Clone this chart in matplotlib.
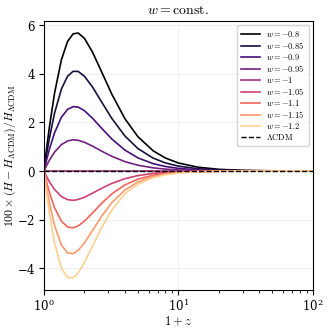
import numpy as np
import matplotlib
matplotlib.use('Agg')
import matplotlib.pyplot as plt

plt.rcParams['mathtext.fontset'] = 'cm'
plt.rcParams['font.family'] = 'serif'
plt.rcParams['font.serif'] = ['DejaVu Serif']
plt.rcParams['axes.formatter.use_mathtext'] = True

# 1+z sample points
opz = [1, 1.05, 1.1, 1.2, 1.35, 1.5, 1.65, 1.8, 2, 2.3, 2.7, 3.2, 4, 5, 6.5, 8, 10, 14, 20, 30, 50, 100]

w_labels = ['-0.8', '-0.85', '-0.9', '-0.95', '-1', '-1.05', '-1.1', '-1.15', '-1.2']

# 100 x (H - H_LCDM)/H_LCDM
dH_m080 = [0, 0.972, 1.824, 3.203, 4.58, 5.331, 5.647, 5.679, 5.463, 4.893, 4.056, 3.161, 2.157, 1.413, 0.830, 0.536, 0.331, 0.157, 0.070, 0.0276, 0.0084, 0.0018]
dH_m085 = [0, 0.728, 1.362, 2.378, 3.377, 3.901, 4.103, 4.098, 3.904, 3.456, 2.823, 2.164, 1.445, 0.926, 0.530, 0.335, 0.202, 0.092, 0.040, 0.0149, 0.0043, 0.0008]
dH_m090 = [0, 0.484, 0.904, 1.570, 2.213, 2.538, 2.650, 2.629, 2.485, 2.171, 1.748, 1.319, 0.863, 0.541, 0.302, 0.187, 0.110, 0.049, 0.020, 0.0073, 0.0020, 0.0003]
dH_m095 = [0, 0.241, 0.450, 0.777, 1.088, 1.238, 1.284, 1.265, 1.185, 1.024, 0.813, 0.604, 0.388, 0.239, 0.130, 0.079, 0.046, 0.020, 0.008, 0.0027, 0.0007, 0.0001]
dH_m100 = [0] * 22
dH_m105 = [0, -0.240, -0.445, -0.762, -1.051, -1.179, -1.206, -1.172, -1.081, -0.912, -0.706, -0.510, -0.316, -0.188, -0.098, -0.058, -0.032, -0.013, -0.005, -0.0017, -0.0004, -0.0001]
dH_m110 = [0, -0.479, -0.886, -1.509, -2.066, -2.302, -2.338, -2.258, -2.065, -1.724, -1.318, -0.941, -0.573, -0.336, -0.173, -0.100, -0.055, -0.022, -0.008, -0.0026, -0.0006, -0.0001]
dH_m115 = [0, -0.717, -1.322, -2.242, -3.047, -3.371, -3.400, -3.263, -2.960, -2.447, -1.848, -1.305, -0.783, -0.452, -0.229, -0.132, -0.072, -0.028, -0.010, -0.0032, -0.0007, -0.0001]
dH_m120 = [0, -0.954, -1.754, -2.960, -3.993, -4.387, -4.396, -4.193, -3.774, -3.089, -2.307, -1.611, -0.929, -0.543, -0.272, -0.154, -0.083, -0.032, -0.012, -0.0036, -0.0008, -0.0001]

curves = [dH_m080, dH_m085, dH_m090, dH_m095, dH_m100, dH_m105, dH_m110, dH_m115, dH_m120]
colors = plt.cm.magma(np.linspace(0, 0.9, len(curves)))

fig = plt.figure(figsize=(3.3, 3.3), dpi=100)
ax = fig.add_axes([0.133, 0.121, 0.815, 0.816])

for lab, dh, c in zip(w_labels, curves, colors):
    ax.plot(opz, dh, color=c, lw=1.2, label=r'$w = ' + lab + '$')
ax.plot(opz, dH_m100, 'k--', lw=1.0, label=r'$\Lambda\mathrm{CDM}$')

ax.set_xscale('log')
ax.set_xlim(1, 100)
ax.margins(y=0.05)
ax.grid(True, color='0.94', lw=0.8)
ax.set_axisbelow(True)
ax.set_title(r'$w = \mathrm{const.}$', fontsize=10, pad=5)
ax.set_xlabel(r'$1+z$', fontsize=9, labelpad=0)
ax.set_ylabel(r'$100\times(H - H_{\Lambda\mathrm{CDM}})/H_{\Lambda\mathrm{CDM}}$', fontsize=8.5)
ax.yaxis.set_label_coords(-0.097, 0.5)
ax.tick_params(labelsize=8.5, pad=2.5)
ax.legend(loc='upper right', fontsize=6, handlelength=2.2, labelspacing=0.12, borderpad=0.5)

fig.savefig('out.png', dpi=100)
